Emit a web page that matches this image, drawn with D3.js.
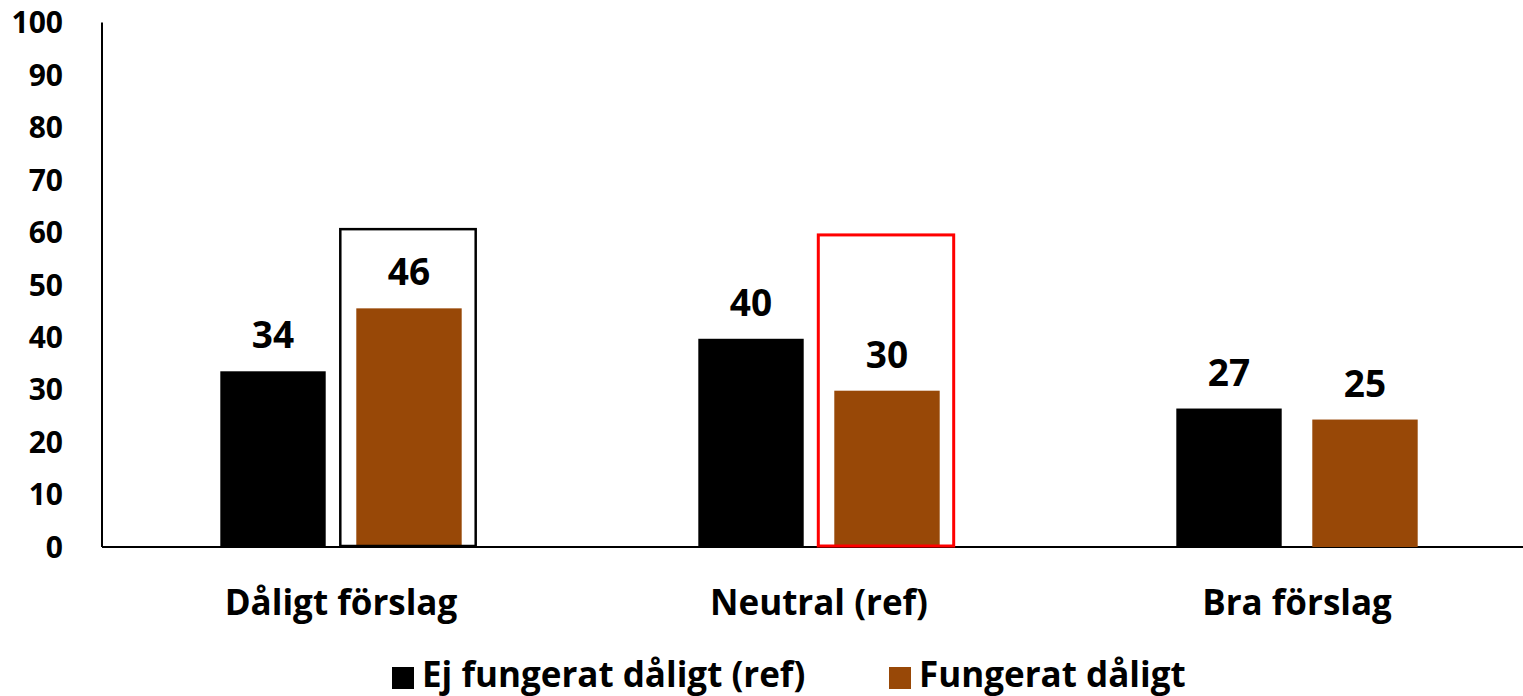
<!DOCTYPE html>
<html><head><meta charset="utf-8">
<script src="https://cdn.jsdelivr.net/npm/d3@7"></script>
<style>body{margin:0;background:#fff}svg{display:block}text{font-family:"Open Sans",Lato,sans-serif;font-weight:bold;fill:#000}</style>
</head><body><svg id="c" width="1523" height="696"></svg>
<script>
const categories = ["Dåligt förslag", "Neutral (ref)", "Bra förslag"];
const seriesNames = ["Ej fungerat dåligt (ref)", "Fungerat dåligt"];
const ejFungerat = [33.5, 39.7, 26.4];
const fungerat = [45.5, 29.8, 24.3];
const labels1 = ["34", "40", "27"];
const labels2 = ["46", "30", "25"];
const yTicks = [0,10,20,30,40,50,60,70,80,90,100];
const colors = ["#000000", "#984807"];
// annotation boxes: [category index, top value, color]
const boxes = [[0, 60.6, "#000000"], [1, 59.5, "#ff0000"]];

const svg = d3.select("#c");
const y = d3.scaleLinear().domain([0,100]).range([547, 22.5]);
const x = d3.scaleBand().domain(categories).range([102, 1536]).paddingInner(0).paddingOuter(0);
const xs = d3.scaleBand().domain([0,1]).range([0, x.bandwidth()]).paddingInner(0.225).paddingOuter(0.87);

svg.append("line").attr("x1",102).attr("x2",102).attr("y1",y(100)).attr("y2",y(0)).attr("stroke","#000").attr("stroke-width",2);
svg.append("line").attr("x1",102).attr("x2",1523).attr("y1",y(0)).attr("y2",y(0)).attr("stroke","#000").attr("stroke-width",2);
svg.selectAll(".yt").data(yTicks).enter().append("text")
  .attr("x",63).attr("y",d=>y(d)).attr("dy","0.36em").attr("text-anchor","end")
  .style("font-size","30px").text(d=>d);

const series = [ejFungerat, fungerat];
const labs = [labels1, labels2];
series.forEach((vals, s) => {
  svg.selectAll(".b"+s).data(vals).enter().append("rect")
    .attr("x",(d,i)=>x(categories[i])+xs(s)).attr("width",xs.bandwidth())
    .attr("y",d=>y(d)).attr("height",d=>y(0)-y(d)).attr("fill",colors[s]);
  svg.selectAll(".l"+s).data(vals).enter().append("text")
    .attr("x",(d,i)=>x(categories[i])+xs(s)+xs.bandwidth()/2)
    .attr("y",d=>y(d)-23).attr("text-anchor","middle").style("font-size","37px")
    .text((d,i)=>labs[s][i]);
});

boxes.forEach(([ci, top, col]) => {
  const x0 = x(categories[ci]) + xs(1) - 16;
  svg.append("rect").attr("x",x0).attr("y",y(top)).attr("width",xs.bandwidth()+30)
    .attr("height",y(0)-y(top)-1).attr("fill","none").attr("stroke",col)
    .attr("stroke-width", col==="#000000"?2.5:3);
});

svg.selectAll(".cat").data(categories).enter().append("text")
  .attr("x",d=>x(d)+x.bandwidth()/2).attr("y",615).attr("text-anchor","middle")
  .style("font-size","35px").text(d=>d);

const legX = [392, 889];
seriesNames.forEach((n,i)=>{
  svg.append("rect").attr("x",legX[i]).attr("y",667).attr("width",22).attr("height",22).attr("fill",colors[i]);
  svg.append("text").attr("x",legX[i]+30).attr("y",687).style("font-size","35px").text(n);
});
</script></body></html>
